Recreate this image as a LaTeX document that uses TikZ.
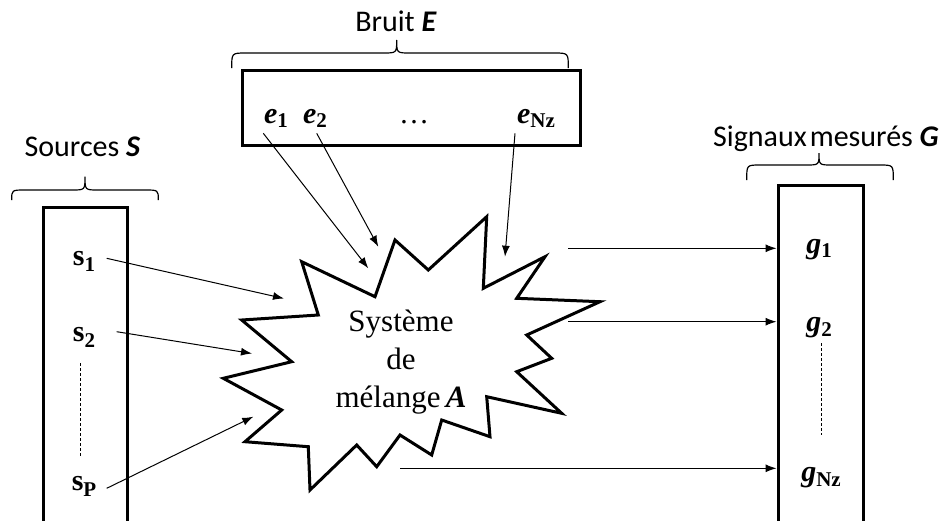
\documentclass[tikz,border=0pt]{standalone}
\usepackage{fontspec}
\setmainfont{Liberation Serif}
\newfontfamily\calib{Carlito}
\usetikzlibrary{arrows.meta}
\newcommand\bsub[2][-0.15em]{\raisebox{#1}{\fontsize{21}{21}\selectfont\bfseries #2}}
\newcommand\bivar[1]{\textbf{\textit{#1}}}
\begin{document}
\begin{tikzpicture}[x=1pt,y=-1pt,
  lbl/.style={font=\calib\fontsize{30}{35}\selectfont, anchor=base, inner sep=0pt},
  var/.style={font=\fontsize{30}{36}\selectfont, anchor=base, inner sep=0pt},
  box/.style={draw, line width=3pt},
  arr/.style={-{Latex[length=11pt,width=8pt]}, line width=1pt},
  brc/.style={line width=1.2pt},
  dsh/.style={dash pattern=on 3pt off 2pt, line width=0.9pt}]
\useasboundingbox (0,0) rectangle (952,520);

% boxes
\draw[box] (43,207) rectangle (127,540);
\draw[box] (242,70) rectangle (580,145);
\draw[box] (778,185) rectangle (863,540);

% braces
\draw[brc] (11.7,200) .. controls (11.7,190) .. (25,190) -- (72,190)
  .. controls (85,190) .. (85,176.7) .. controls (85,190) .. (98,190)
  -- (145,190) .. controls (158.3,190) .. (158.3,200);
\draw[brc] (231.7,68) .. controls (231.7,53) .. (246,53) -- (383,53)
  .. controls (396.7,53) .. (396.7,40) .. controls (396.7,53) .. (410,53)
  -- (554,53) .. controls (568.3,53) .. (568.3,68);
\draw[brc] (746.7,180) .. controls (746.7,165) .. (760,165) -- (806,165)
  .. controls (819,165) .. (819,153) .. controls (819,165) .. (832,165)
  -- (880,165) .. controls (893.3,165) .. (893.3,180);

% titles
\node[lbl] (tS) at (82.5,156.7) {Sources \bivar{S}};
\node[lbl] (tE) at (396,31.7) {Bruit \bivar{E}};
\node[lbl] (tG) at (826,146.7) {Signaux\hspace{3pt}mesurés \bivar{G}};

% star
\draw[line width=3pt, line join=miter, miter limit=12]
  (486.7,216.7) -- (483.3,288.3) -- (545,256.7) -- (516.7,298.3)
  -- (600,301.7) -- (526.7,335) -- (551.7,358.3) -- (516.7,371.7)
  -- (561.7,413.3) -- (486.7,396.7) -- (490,436.7) -- (441.7,420)
  -- (431.7,455) -- (400,435) -- (376.7,466.7) -- (356.7,445)
  -- (310,490) -- (308.3,446.7) -- (245,441.7) -- (281.7,410)
  -- (223.3,378.3) -- (291.7,361.7) -- (241.7,320) -- (318.3,315)
  -- (301.7,261.7) -- (375,296.7) -- (395,240) -- (428.3,270) -- cycle;
\node[align=center, font=\fontsize{31}{38}\selectfont, inner sep=0pt] (mix) at (401,362)
  {Système\\de\\mélange\,\bivar{A}};

% sources
\node[var] (s1) at (84,265) {\textbf{s}\bsub[-0.2em]{1}};
\node[var] (s2) at (84,341.7) {\textbf{s}\bsub[-0.2em]{2}};
\node[var] (sP) at (84,490) {\textbf{s}\bsub[-0.2em]{P}};
\draw[dsh] (80,363) -- (80,457);

% noise
\node[var] (e1) at (276,123.3) {\bivar{e}\bsub{1}};
\node[var] (e2) at (315,123.3) {\bivar{e}\bsub{2}};
\node[var] (ed) at (414,123.3) {\dots};
\node[var] (eN) at (536,123.3) {\bivar{e}\bsub{Nz}};

% measured
\node[var] (g1) at (819,253.3) {\bivar{g}\bsub{1}};
\node[var] (g2) at (819,331.7) {\bivar{g}\bsub{2}};
\node[var] (gN) at (821,481.7) {\bivar{g}\bsub{Nz}};
\draw[dsh] (821,343) -- (821,435);

% arrow anchor coordinates
\coordinate (s1o) at (106.7,258.3);
\coordinate (s2o) at (116.7,331.7);
\coordinate (sPo) at (106.7,488.3);
\coordinate (s1i) at (284,298.5);
\coordinate (s2i) at (252,353.5);
\coordinate (sPi) at (253.3,416.7);
\coordinate (e1o) at (263.3,133.3);
\coordinate (e2o) at (316.7,133.3);
\coordinate (eNo) at (515,133.3);
\coordinate (e1i) at (368.3,268.3);
\coordinate (e2i) at (378.3,246.7);
\coordinate (eNi) at (505,256.7);
\coordinate (g1o) at (568.3,248.3);
\coordinate (g2o) at (568.3,321.7);
\coordinate (gNo) at (400,468.3);
\coordinate (g1i) at (776.5,248.3);
\coordinate (g2i) at (776.5,321.7);
\coordinate (gNi) at (776.5,468.3);

\draw[arr] (s1o) -- (s1i);
\draw[arr] (s2o) -- (s2i);
\draw[arr] (sPo) -- (sPi);
\draw[arr] (e1o) -- (e1i);
\draw[arr] (e2o) -- (e2i);
\draw[arr] (eNo) -- (eNi);
\draw[arr] (g1o) -- (g1i);
\draw[arr] (g2o) -- (g2i);
\draw[arr] (gNo) -- (gNi);
\end{tikzpicture}
\end{document}
